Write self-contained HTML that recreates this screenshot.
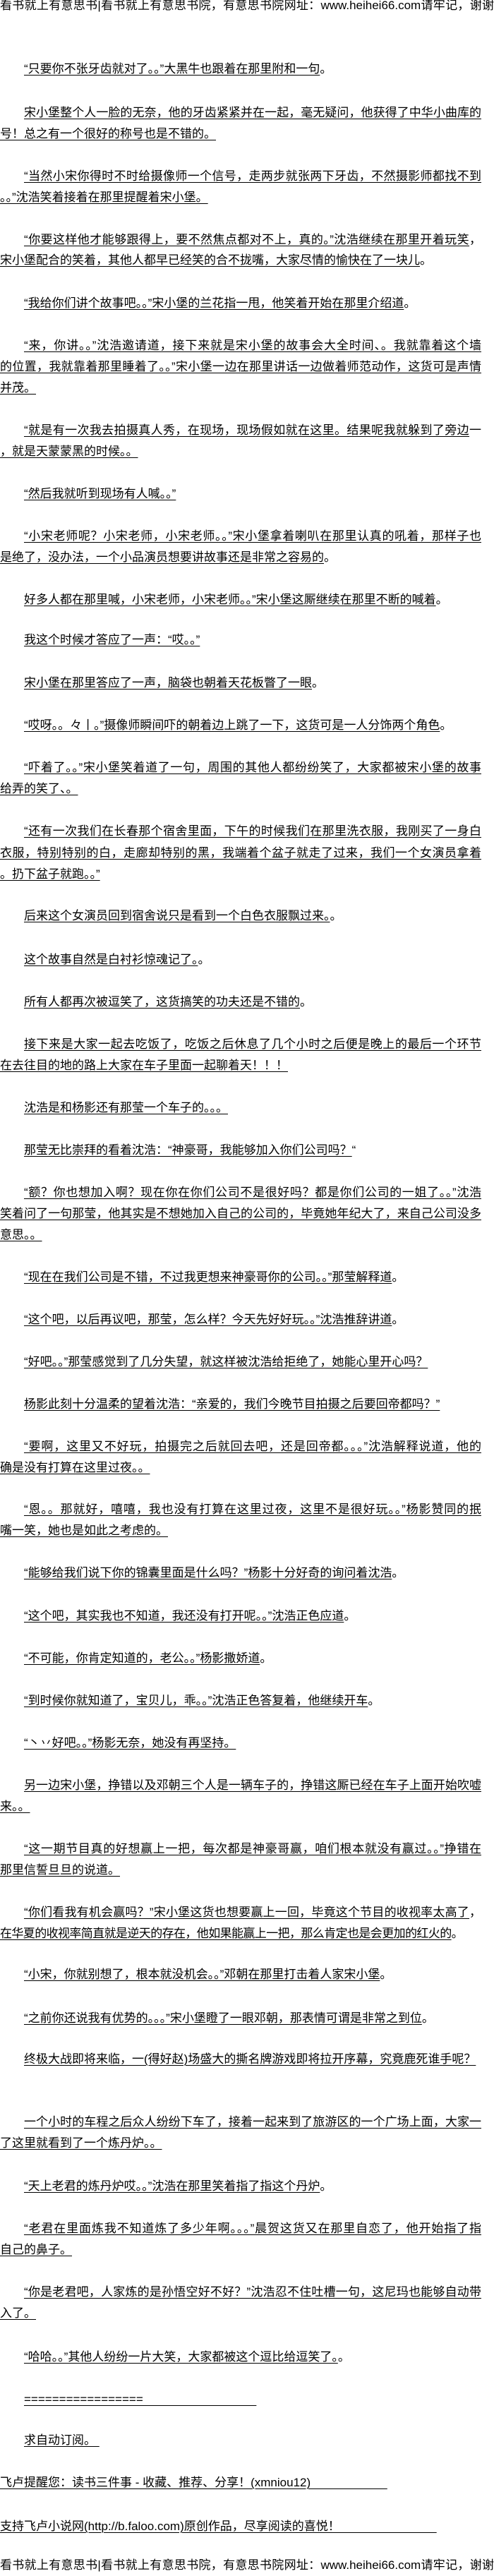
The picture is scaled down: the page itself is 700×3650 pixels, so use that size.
<!DOCTYPE html>
<html lang="zh-CN">
<head>
<meta charset="utf-8">
<style>
html,body{margin:0;padding:0;background:#fff;}
body{width:700px;height:3650px;position:relative;overflow:hidden;
font-family:"Liberation Sans","Noto Sans CJK SC","WenQuanYi Zen Hei",sans-serif;color:#000;}
.l{position:absolute;left:0;height:22px;line-height:22px;font-size:17px;white-space:nowrap;}
.l span{text-decoration:underline;text-decoration-thickness:1px;text-underline-offset:3px;}
.i{left:34px;}
.f{width:682px;text-align:justify;text-align-last:justify;white-space:normal;overflow:hidden;}
.i.f{width:648px;}
.h{width:700px;text-align:justify;text-align-last:justify;white-space:normal;}
</style>
</head>
<body>
<div class="l h" style="top:-3px">看书就上有意思书|看书就上有意思书院，有意思书院网址：www.heihei66.com请牢记，谢谢</div>

<div class="l i" style="top:87px"><span>“只要你不张牙齿就对了。。”大黑牛也跟着在那里附和一句</span>。</div>

<div class="l i f" style="top:149px"><span>宋小堡整个人一脸的无奈，他的牙齿紧紧并在一起，毫无疑问，他获得了中华小曲库的称</span></div>
<div class="l" style="top:179px"><span>号！总之有一个很好的称号也是不错的。</span></div>

<div class="l i f" style="top:239px"><span>“当然小宋你得时不时给摄像师一个信号，走两步就张两下牙齿，不然摄影师都找不到你</span></div>
<div class="l" style="top:269px"><span>。。”沈浩笑着接着在那里提醒着宋小堡。</span></div>

<div class="l i f" style="top:329px"><span>“你要这样他才能够跟得上，要不然焦点都对不上，真的。”沈浩继续在那里开着玩笑</span>，</div>
<div class="l" style="top:358px"><span>宋小堡配合的笑着，其他人都早已经笑的合不拢嘴，大家尽情的愉快在了一块儿</span>。</div>

<div class="l i" style="top:419px"><span>“我给你们讲个故事吧。。”宋小堡的兰花指一甩，他笑着开始在那里介绍道</span>。</div>

<div class="l i f" style="top:479px"><span>“来，你讲。。”沈浩邀请道，接下来就是宋小堡的故事会大全时间、。我就靠着这个墙</span></div>
<div class="l f" style="top:509px"><span>的位置，我就靠着那里睡着了。。”宋小堡一边在那里讲话一边做着师范动作，这货可是声情</span></div>
<div class="l" style="top:539px"><span>并茂。</span></div>

<div class="l i f" style="top:599px"><span>“就是有一次我去拍摄真人秀，在现场，现场假如就在这里。结果呢我就躲到了旁边</span>一个</div>
<div class="l" style="top:629px"><span>，就是天蒙蒙黑的时候。。</span></div>

<div class="l i" style="top:689px"><span>“然后我就听到现场有人喊。。”</span></div>

<div class="l i f" style="top:749px"><span>“小宋老师呢？小宋老师，小宋老师。。”宋小堡拿着喇叭在那里认真的吼着，那样子也</span></div>
<div class="l" style="top:779px"><span>是绝了，没办法，一个小品演员想要讲故事还是非常之容易的</span>。</div>

<div class="l i" style="top:839px"><span>好多人都在那里喊，小宋老师，小宋老师。。”宋小堡这厮继续在那里不断的喊着</span>。</div>

<div class="l i" style="top:896px"><span>我这个时候才答应了一声：“哎。。”</span></div>

<div class="l i" style="top:957px"><span>宋小堡在那里答应了一声，脑袋也朝着天花板瞥了一眼</span>。</div>

<div class="l i" style="top:1017px"><span>“哎呀。。々丨。”摄像师瞬间吓的朝着边上跳了一下，这货可是一人分饰两个角色</span>。</div>

<div class="l i f" style="top:1077px"><span>“吓着了。。”宋小堡笑着道了一句，周围的其他人都纷纷笑了，大家都被宋小堡的故事</span></div>
<div class="l" style="top:1107px"><span>给弄的笑了、。</span></div>

<div class="l i f" style="top:1167px"><span>“还有一次我们在长春那个宿舍里面，下午的时候我们在那里洗衣服，我刚买了一身白色</span></div>
<div class="l f" style="top:1198px"><span>衣服，特别特别的白，走廊却特别的黑，我端着个盆子就走了过来，我们一个女演员拿着盆</span>。</div>
<div class="l" style="top:1228px"><span>。扔下盆子就跑。。”</span></div>

<div class="l i" style="top:1287px"><span>后来这个女演员回到宿舍说只是看到一个白色衣服飘过来。</span>。</div>

<div class="l i" style="top:1349px"><span>这个故事自然是白衬衫惊魂记了。</span>。</div>

<div class="l i" style="top:1409px"><span>所有人都再次被逗笑了，这货搞笑的功夫还是不错的</span>。</div>

<div class="l i f" style="top:1469px"><span>接下来是大家一起去吃饭了，吃饭之后休息了几个小时之后便是晚上的最后一个环节了</span>，</div>
<div class="l" style="top:1499px"><span>在去往目的地的路上大家在车子里面一起聊着天！！！</span></div>

<div class="l i" style="top:1559px"><span>沈浩是和杨影还有那莹一个车子的。。。</span></div>

<div class="l i" style="top:1619px"><span>那莹无比崇拜的看着沈浩：“神豪哥，我能够加入你们公司吗？</span>“</div>

<div class="l i f" style="top:1679px"><span>“额？你也想加入啊？现在你在你们公司不是很好吗？都是你们公司的一姐了。。”沈浩</span></div>
<div class="l f" style="top:1709px"><span>笑着问了一句那莹，他其实是不想她加入自己的公司的，毕竟她年纪大了，来自己公司没多大</span></div>
<div class="l" style="top:1739px"><span>意思。。</span></div>

<div class="l i" style="top:1799px"><span>“现在在我们公司是不错，不过我更想来神豪哥你的公司。。”那莹解释道</span>。</div>

<div class="l i" style="top:1859px"><span>“这个吧，以后再议吧，那莹，怎么样？今天先好好玩。。”沈浩推辞讲道</span>。</div>

<div class="l i" style="top:1919px"><span>“好吧。。”那莹感觉到了几分失望，就这样被沈浩给拒绝了，她能心里开心吗？</span></div>

<div class="l i" style="top:1979px"><span>杨影此刻十分温柔的望着沈浩：“亲爱的，我们今晚节目拍摄之后要回帝都吗？”</span></div>

<div class="l i f" style="top:2039px"><span>“要啊，这里又不好玩，拍摄完之后就回去吧，还是回帝都。。。”沈浩解释说道，他的</span></div>
<div class="l" style="top:2069px"><span>确是没有打算在这里过夜。。</span></div>

<div class="l i f" style="top:2128px"><span>“恩。。那就好，嘻嘻，我也没有打算在这里过夜，这里不是很好玩。。”杨影赞同的抿</span></div>
<div class="l" style="top:2158px"><span>嘴一笑，她也是如此之考虑的。</span></div>

<div class="l i" style="top:2218px"><span>“能够给我们说下你的锦囊里面是什么吗？”杨影十分好奇的询问着沈浩</span>。</div>

<div class="l i" style="top:2279px"><span>“这个吧，其实我也不知道，我还没有打开呢。。”沈浩正色应道</span>。</div>

<div class="l i" style="top:2339px"><span>“不可能，你肯定知道的，老公。。”杨影撒娇道</span>。</div>

<div class="l i" style="top:2399px"><span>“到时候你就知道了，宝贝儿，乖。。”沈浩正色答复着，他继续开车</span>。</div>

<div class="l i" style="top:2459px"><span>“丶丷好吧。。”杨影无奈，她没有再坚持。</span></div>

<div class="l i f" style="top:2519px"><span>另一边宋小堡，挣错以及邓朝三个人是一辆车子的，挣错这厮已经在车子上面开始吹嘘起</span></div>
<div class="l" style="top:2549px"><span>来。。</span></div>

<div class="l i f" style="top:2609px"><span>“这一期节目真的好想赢上一把，每次都是神豪哥赢，咱们根本就没有赢过。。”挣错在</span></div>
<div class="l" style="top:2639px"><span>那里信誓旦旦的说道。</span></div>

<div class="l i f" style="top:2699px"><span>“你们看我有机会赢吗？”宋小堡这货也想要赢上一回，毕竟这个节目的收视率太高了</span>，</div>
<div class="l" style="top:2729px;letter-spacing:-0.6px"><span>在华夏的收视率简直就是逆天的存在，他如果能赢上一把，那么肯定也是会更加的红火的</span>。</div>

<div class="l i" style="top:2787px"><span>“小宋，你就别想了，根本就没机会。。”邓朝在那里打击着人家宋小堡</span>。</div>

<div class="l i" style="top:2849px"><span>“之前你还说我有优势的。。。”宋小堡瞪了一眼邓朝，那表情可谓是非常之到位</span>。</div>

<div class="l i" style="top:2907px"><span>终极大战即将来临，一(得好赵)场盛大的撕名牌游戏即将拉开序幕，究竟鹿死谁手呢？</span></div>

<div class="l i f" style="top:2996px"><span>一个小时的车程之后众人纷纷下车了，接着一起来到了旅游区的一个广场上面，大家一到</span></div>
<div class="l" style="top:3026px"><span>了这里就看到了一个炼丹炉。。</span></div>

<div class="l i" style="top:3087px"><span>“天上老君的炼丹炉哎。。”沈浩在那里笑着指了指这个丹炉</span>。</div>

<div class="l i f" style="top:3147px"><span>“老君在里面炼我不知道炼了多少年啊。。。”晨贺这货又在那里自恋了，他开始指了指</span></div>
<div class="l" style="top:3177px"><span>自己的鼻子。</span></div>

<div class="l i f" style="top:3237px"><span>“你是老君吧，人家炼的是孙悟空好不好？”沈浩忍不住吐槽一句，这尼玛也能够自动带</span></div>
<div class="l" style="top:3267px"><span>入了。</span></div>

<div class="l i" style="top:3329px"><span>“哈哈。。”其他人纷纷一片大笑，大家都被这个逗比给逗笑了。</span>。</div>

<div class="l i" style="top:3389px"><span>=================&#160;&#160;&#160;&#160;&#160;&#160;&#160;&#160;&#160;&#160;&#160;&#160;&#160;&#160;&#160;&#160;&#160;&#160;&#160;&#160;&#160;&#160;&#160;&#160;&#160;&#160;&#160;&#160;&#160;&#160;&#160;&#160;&#160;&#160;</span></div>

<div class="l i" style="top:3447px"><span>求自动订阅。&#160;</span></div>

<div class="l" style="top:3507px"><span>飞卢提醒您：读书三件事 - 收藏、推荐、分享！(xmniou12)&#160;&#160;&#160;&#160;&#160;&#160;&#160;&#160;&#160;&#160;&#160;&#160;&#160;&#160;&#160;&#160;&#160;&#160;&#160;&#160;&#160;&#160;&#160;</span></div>

<div class="l" style="top:3569px"><span>支持飞卢小说网(http://b.faloo.com)原创作品，尽享阅读的喜悦！&#160;&#160;&#160;&#160;&#160;&#160;&#160;&#160;&#160;&#160;&#160;&#160;&#160;&#160;&#160;&#160;&#160;&#160;&#160;&#160;&#160;&#160;&#160;&#160;&#160;&#160;&#160;&#160;&#160;</span></div>

<div class="l h" style="top:3624px">看书就上有意思书|看书就上有意思书院，有意思书院网址：www.heihei66.com请牢记，谢谢</div>
</body>
</html>
